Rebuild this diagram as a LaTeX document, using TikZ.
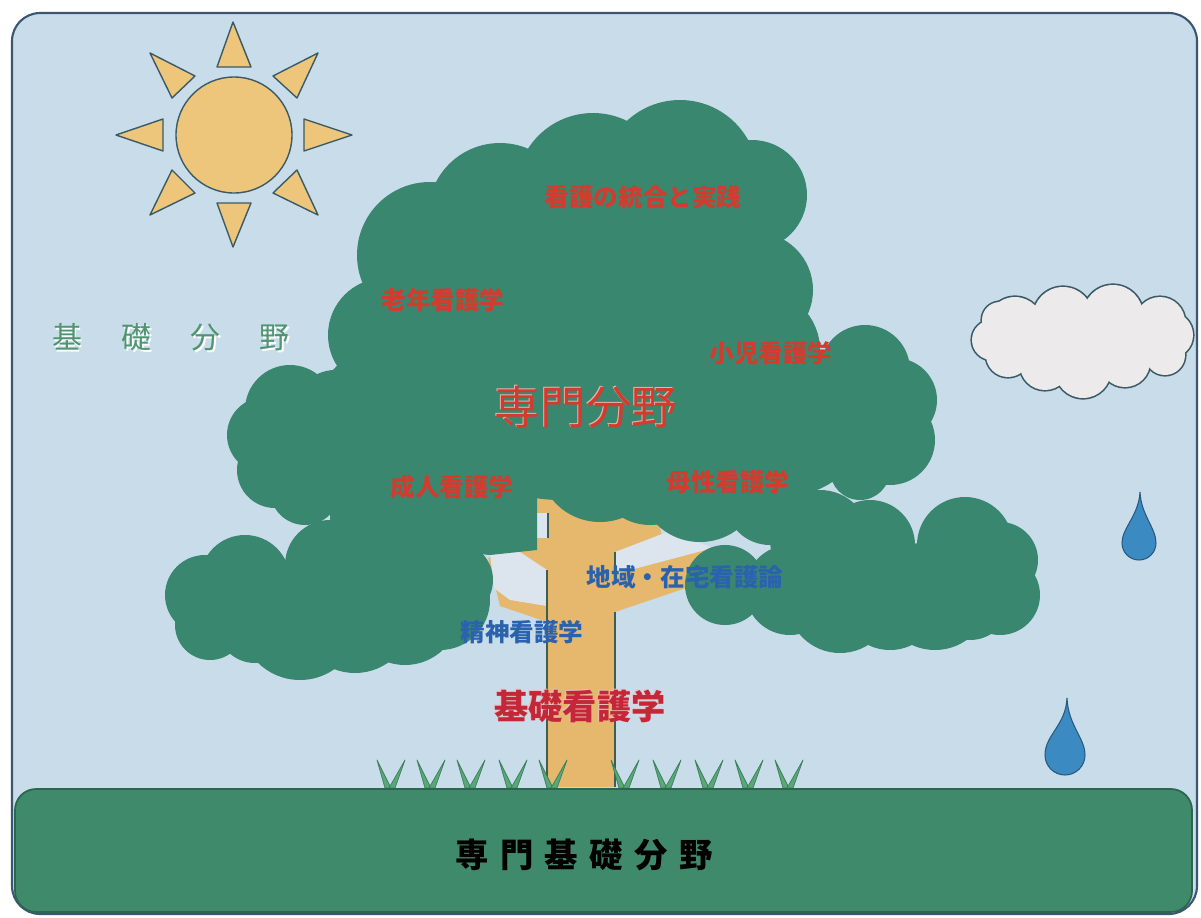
\documentclass[tikz,border=0pt]{standalone}
\usepackage{fontspec}
\newfontfamily\jp{Noto Sans CJK JP}
\definecolor{sky}{HTML}{C9DCEA}
\definecolor{frameline}{HTML}{3B5670}
\definecolor{leaf}{HTML}{3A8770}
\definecolor{groundfill}{HTML}{3F8A6B}
\definecolor{groundline}{HTML}{2C6550}
\definecolor{bark}{HTML}{E6B86E}
\definecolor{barkline}{HTML}{3E5E50}
\definecolor{gapfill}{HTML}{DCE5EE}
\definecolor{sunfill}{HTML}{EDC67C}
\definecolor{inkline}{HTML}{3A5A66}
\definecolor{cloudfill}{HTML}{ECEAEA}
\definecolor{dropfill}{HTML}{3C8AC2}
\definecolor{dropline}{HTML}{27597E}
\definecolor{labelred}{HTML}{D23C2E}
\definecolor{labelblue}{HTML}{2A62AE}
\definecolor{corered}{HTML}{C42838}
\definecolor{fieldgreen}{HTML}{4E9570}
\definecolor{bladefill}{HTML}{5AA878}
\definecolor{bladeline}{HTML}{3A7F5E}
\tikzset{
  subject/.style={font=\jp\bfseries\fontsize{14pt}{14pt}\selectfont, text=labelred, inner sep=0pt},
  community/.style={subject, text=labelblue},
  raystyle/.style={fill=sunfill, draw=inkline, line width=0.8pt, line join=round},
  bladestyle/.style={fill=bladefill, draw=bladeline, line width=0.4pt, line join=round},
}
\begin{document}
\begin{tikzpicture}[x=0.02cm,y=-0.02cm]
\useasboundingbox (0,0) rectangle (1201,917);
\fill[white] (0,0) rectangle (1201,917);
% sky panel
\draw[fill=sky, draw=frameline, line width=1.2pt, rounded corners=16pt] (12,13) rectangle (1197,914);

% sun
\filldraw[raystyle] (234,135) circle (58);
\filldraw[raystyle] (233,22) -- (251,67) -- (217,67) -- cycle;
\filldraw[raystyle] (233,247) -- (251,203) -- (217,203) -- cycle;
\filldraw[raystyle] (116,135) -- (163,119) -- (163,151) -- cycle;
\filldraw[raystyle] (352,135) -- (304,119) -- (304,151) -- cycle;
\filldraw[raystyle] (150,53) -- (195,76) -- (172,98) -- cycle;
\filldraw[raystyle] (318,53) -- (273,76) -- (297,98) -- cycle;
\filldraw[raystyle] (150,215) -- (195,193) -- (172,170) -- cycle;
\filldraw[raystyle] (318,215) -- (273,193) -- (297,170) -- cycle;

% cloud: outline ring first, then the white body over it
\def\cloudparts{1015/325/28, 1063/317/30, 1113/315/30, 1160/322/25, 1170/335/23,
  1165/355/20, 1125/362/25, 1083/370/28, 1045/365/25, 1008/355/22, 992/340/20, 1000/320/18}
\foreach \cx/\cy/\cr in \cloudparts {\fill[inkline] (\cx,\cy) circle ({\cr+1.6});}
\foreach \cx/\cy/\cr in \cloudparts {\fill[cloudfill] (\cx,\cy) circle (\cr);}
\fill[cloudfill] (1080,340) circle (35);
\fill[cloudfill] (1035,342) circle (28);
\fill[cloudfill] (1140,340) circle (28);

% rain drops
\filldraw[fill=dropfill, draw=dropline, line width=0.6pt]
  (1140,492) .. controls (1141,515) and (1156,528) .. (1156,543)
  arc[start angle=0, end angle=180, radius=17]
  .. controls (1122,528) and (1139,515) .. cycle;
\filldraw[fill=dropfill, draw=dropline, line width=0.6pt]
  (1067,698) .. controls (1068,725) and (1085,738) .. (1085,755)
  arc[start angle=0, end angle=180, radius=20]
  .. controls (1045,735) and (1066,725) .. cycle;

% trunk and branches
\fill[bark] (537,498) -- (655,498) -- (662,538) -- (716,548) -- (692,586) -- (615,612)
  -- (615,787) -- (547,787) -- (547,622) -- (500,606) -- (488,558) -- (520,546) -- (537,540) -- cycle;
\fill[gapfill] (615,552) -- (670,531) -- (713,548) -- (615,574) -- cycle;
\fill[gapfill] (490,553) -- (517,550) -- (547,570) -- (547,606) -- (510,600) -- (494,588) -- cycle;
\fill[gapfill] (537,513) rectangle (548,538);
\draw[barkline, line width=0.7pt] (547,570) -- (547,787);
\draw[barkline, line width=0.7pt] (615,612) -- (615,787);
\draw[barkline, line width=0.7pt] (615,552) -- (615,574);
\draw[barkline, line width=0.7pt] (548,513) -- (548,538);

% foliage, built from overlapping discs
\foreach \cx/\cy/\cr in {
  430/255/73, 500/215/72, 593/190/77, 680/178/78, 752/195/55, 755/290/58, 680/280/70,
  560/350/150, 385/335/57, 700/400/60, 320/450/40,
  290/410/45, 265/435/38, 275/470/38, 305/490/35, 335/410/40, 400/430/90, 470/470/70,
  600/460/62, 650/470/55, 700/480/62, 770/500/45,
  865/370/45, 895/400/42, 890/440/45, 860/470/30, 790/420/75, 760/350/60,
  725/585/40, 790/590/45, 840/600/53, 890/600/50, 935/595/55, 965/545/48,
  1000/560/38, 1000/595/40, 970/600/40, 820/540/50, 870/545/45,
  245/580/45, 205/595/40, 210/625/35, 255/625/38, 300/620/60, 355/615/58,
  405/610/55, 440/600/50, 455/580/38, 330/565/45, 400/560/50}
  {\fill[leaf] (\cx,\cy) circle (\cr);}
\fill[leaf] (330,480) -- (537,480) -- (537,550) -- (490,555) -- (330,540) -- cycle;

% grass
\foreach \bx in {390,430,470,512,552,624,666,708,748,788} {
  \filldraw[bladestyle] ({\bx-5},788) -- ({\bx-13},760) -- ({\bx+1},788) -- cycle;
  \filldraw[bladestyle] ({\bx-1},788) -- ({\bx+15},760) -- ({\bx+5},788) -- cycle;
}

% ground
\draw[fill=groundfill, draw=groundline, line width=1pt, rounded corners=12pt] (15,789) rectangle (1192,912);

% labels
\node[subject] (integ) at (643,197) {看護の統合と実践};
\node[subject] (geri) at (443,300) {老年看護学};
\node[subject] (ped) at (771,353) {小児看護学};
\node[subject] (adult) at (452,487) {成人看護学};
\node[subject] (mat) at (728,482) {母性看護学};
\node[community] (home) at (685,577) {地域・在宅看護論};
\node[community] (psy) at (522,632) {精神看護学};
\node[font=\jp\fontsize{26pt}{26pt}\selectfont, text=white!60!labelred, inner sep=0pt] (specshade) at (585,406) {専門分野};
\node[font=\jp\fontsize{26pt}{26pt}\selectfont, text=labelred, inner sep=0pt] (spec) at (586,407) {専門分野};
\node[font=\jp\bfseries\fontsize{19.5pt}{19.5pt}\selectfont, text=white!70!corered, inner sep=0pt] (baseshade) at (579,705) {基礎看護学};
\node[font=\jp\bfseries\fontsize{19.5pt}{19.5pt}\selectfont, text=corered, inner sep=0pt] (base) at (580,706) {基礎看護学};
\node[font=\jp\fontsize{17pt}{17pt}\selectfont, text=white, inner sep=0pt] (fieldshade) at (172.5,339)
  {基\hspace{22.3pt}礎\hspace{22.3pt}分\hspace{22.3pt}野};
\node[font=\jp\fontsize{17pt}{17pt}\selectfont, text=fieldgreen, inner sep=0pt] (field) at (171,337)
  {基\hspace{22.3pt}礎\hspace{22.3pt}分\hspace{22.3pt}野};
\node[font=\jp\bfseries\fontsize{19pt}{19pt}\selectfont, text=black, inner sep=0pt] (groundlabel) at (584,855)
  {専\hspace{6.5pt}門\hspace{6.5pt}基\hspace{6.5pt}礎\hspace{6.5pt}分\hspace{6.5pt}野};
\end{tikzpicture}
\end{document}
